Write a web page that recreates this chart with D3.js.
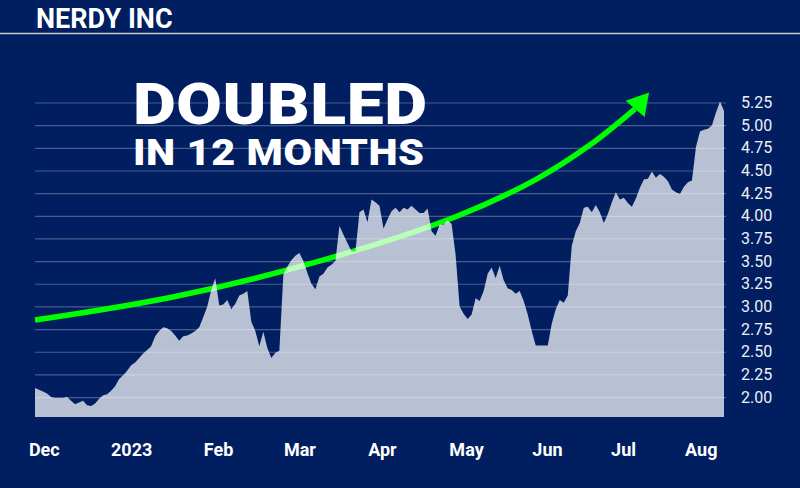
<!doctype html>
<html lang="en">
<head>
<meta charset="utf-8">
<title>Nerdy Inc</title>
<script src="https://cdn.jsdelivr.net/npm/d3@7"></script>
<style>
    body { margin: 0; background: #001e60; }
    svg { display: block; font-family: Roboto, "Noto Sans", sans-serif; }
</style>
</head>
<body>
<div id="chart"></div>
<script>

// daily closes, Dec 2022 - Aug 2023
var prices = [
    2.10, 2.08, 2.06, 2.04, 2.00, 1.99, 1.99, 1.99, 2.00, 1.96,
    1.92, 1.94, 1.96, 1.91, 1.90, 1.93, 1.98, 2.02, 2.03, 2.07,
    2.12, 2.20, 2.24, 2.29, 2.35, 2.38, 2.43, 2.48, 2.52, 2.56,
    2.67, 2.73, 2.77, 2.76, 2.73, 2.68, 2.62, 2.67, 2.68, 2.70,
    2.73, 2.77, 2.88, 3.00, 3.18, 3.31, 3.01, 3.02, 3.07, 2.97,
    3.03, 3.12, 3.14, 3.17, 2.83, 2.73, 2.56, 2.72, 2.54, 2.43,
    2.49, 2.51, 3.35, 3.44, 3.51, 3.56, 3.59, 3.50, 3.37, 3.25,
    3.19, 3.33, 3.36, 3.43, 3.46, 3.50, 3.89, 3.79, 3.70, 3.61,
    3.61, 4.04, 4.07, 3.93, 4.18, 4.15, 4.11, 3.86, 3.96, 4.05,
    4.09, 4.04, 4.09, 4.07, 4.11, 4.07, 4.03, 4.03, 4.08, 3.83,
    3.78, 3.90, 3.90, 3.95, 3.91, 3.57, 3.00, 2.92, 2.86, 2.91,
    3.09, 3.06, 3.17, 3.36, 3.43, 3.31, 3.45, 3.29, 3.20, 3.18,
    3.14, 3.17, 3.06, 2.91, 2.73, 2.57, 2.57, 2.57, 2.57, 2.81,
    2.97, 3.07, 3.04, 3.12, 3.67, 3.83, 3.92, 4.09, 4.10, 4.04,
    4.12, 4.04, 3.92, 4.02, 4.15, 4.26, 4.18, 4.20, 4.14, 4.10,
    4.19, 4.31, 4.40, 4.41, 4.49, 4.42, 4.46, 4.43, 4.38, 4.29,
    4.26, 4.24, 4.32, 4.37, 4.39, 4.76, 4.93, 4.95, 4.96, 5.00,
    5.14, 5.26, 5.16
];

// month labels and where they sit (in trading days)
var monthLabels = ["Dec", "2023", "Feb", "Mar", "Apr", "May", "Jun", "Jul", "Aug"];
var monthDays = [2.2, 24, 45.7, 66, 86.6, 107.6, 127.8, 146.8, 166.2];

var priceTicks = [2.00, 2.25, 2.50, 2.75, 3.00, 3.25, 3.50, 3.75, 4.00, 4.25, 4.50, 4.75, 5.00, 5.25];

// hand drawn green trend arrow (last point is the arrow tip)
var trendDays = [0, 35, 71, 105, 125, 138.5, 149.8, 153.3];
var trendPrices = [2.85, 3.11, 3.50, 3.99, 4.40, 4.78, 5.18, 5.36];

var width = 800;
var height = 488;

var svg = d3.select("#chart").append("svg")
    .attr("width", width)
    .attr("height", height);

svg.append("rect")
    .attr("width", width)
    .attr("height", height)
    .attr("fill", "#001e60");

var x = d3.scaleLinear()
    .domain([0, prices.length - 1])
    .range([35, 724]);

var y = d3.scaleLinear()
    .domain([1.78, 5.25])
    .range([417, 102.5]);

//gridlines
svg.append("g")
    .attr("transform", "translate(726,0)")
    .call(d3.axisLeft(y).tickValues(priceTicks).tickSize(691).tickFormat(""))
    .call(function(g) { g.select(".domain").remove(); })
    .selectAll("line")
    .attr("stroke", "#ffffff")
    .attr("stroke-opacity", 0.28)
    .attr("stroke-width", 1.2);

//trend line (sits under the area)
var trendPts = trendDays.map(function(d, i) { return [x(d), y(trendPrices[i])]; });
var shaft = trendPts.slice(0, trendPts.length - 1);

svg.append("path")
    .attr("d", d3.line().curve(d3.curveCatmullRom)(shaft))
    .attr("fill", "none")
    .attr("stroke", "#00ff00")
    .attr("stroke-width", 5.5);

//arrow head: tip is the last point, base centred on the one before
var tip = trendPts[trendPts.length - 1];
var base = trendPts[trendPts.length - 2];
var dx = tip[0] - base[0], dy = tip[1] - base[1];
var len = Math.sqrt(dx * dx + dy * dy);
var nx = -dy / len, ny = dx / len;
var half = 12.5;
svg.append("path")
    .attr("d", "M" + tip[0] + "," + tip[1] +
        "L" + (base[0] + nx * half) + "," + (base[1] + ny * half) +
        "L" + (base[0] - nx * half) + "," + (base[1] - ny * half) + "Z")
    .attr("fill", "#00ff00");

//price area
var area = d3.area()
    .x(function(d, i) { return x(i); })
    .y0(y(1.78))
    .y1(function(d) { return y(d); });

svg.append("path")
    .datum(prices)
    .attr("d", area)
    .attr("fill", "#ffffff")
    .attr("fill-opacity", 0.72);

//y labels
svg.append("g")
    .attr("transform", "translate(741,0)")
    .call(d3.axisRight(y).tickValues(priceTicks).tickSize(0).tickPadding(0).tickFormat(d3.format(".2f")))
    .call(function(g) { g.select(".domain").remove(); })
    .selectAll("text")
    .attr("fill", "#eef0f6")
    .style("font-size", "16px")
    .style("font-family", "Roboto, sans-serif");

//x labels
svg.append("g")
    .attr("transform", "translate(0,443)")
    .call(d3.axisBottom(x).tickValues(monthDays).tickSize(0).tickPadding(0)
        .tickFormat(function(d, i) { return monthLabels[i]; }))
    .call(function(g) { g.select(".domain").remove(); })
    .selectAll("text")
    .attr("fill", "#ffffff")
    .style("font-size", "18px")
    .style("font-weight", "700")
    .style("font-family", "Roboto, sans-serif");

//title + rule
svg.append("text")
    .attr("x", 36)
    .attr("y", 28)
    .attr("fill", "#ffffff")
    .style("font-size", "27px")
    .style("font-weight", "700")
    .text("NERDY INC");

svg.append("line")
    .attr("x1", 0).attr("x2", width)
    .attr("y1", 33.5).attr("y2", 33.5)
    .attr("stroke", "#c8c8c8")
    .attr("stroke-width", 1.6);

//headline, stretched a little wider like the original lettering
svg.append("text")
    .attr("transform", "translate(133,124) scale(1.16,1)")
    .attr("fill", "#ffffff")
    .style("font-size", "57px")
    .style("font-weight", "900")
    .style("letter-spacing", "0.5px")
    .text("DOUBLED");

svg.append("text")
    .attr("transform", "translate(133,165) scale(1.12,1)")
    .attr("fill", "#ffffff")
    .style("font-size", "37px")
    .style("font-weight", "900")
    .style("letter-spacing", "0.5px")
    .text("IN 12 MONTHS");

</script>
</body>
</html>
